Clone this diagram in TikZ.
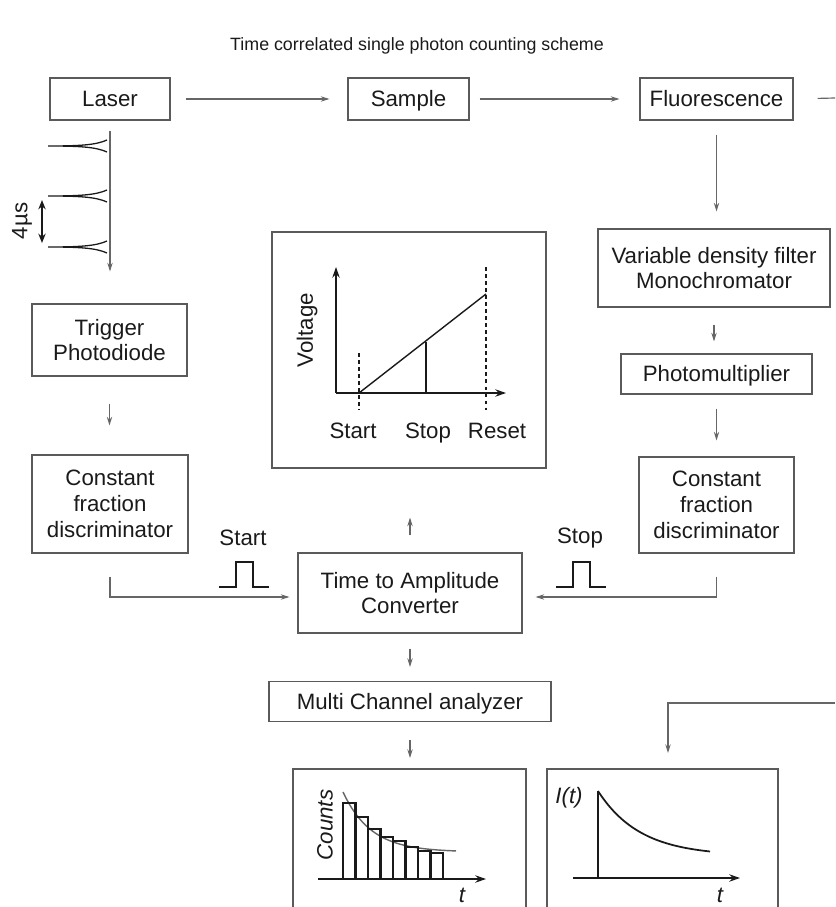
\documentclass[tikz,border=0pt]{standalone}
\usepackage{fontspec}
\setmainfont{Liberation Sans}
\usetikzlibrary{arrows.meta,positioning,calc}
\definecolor{schemeGray}{HTML}{666666}
\definecolor{schemeBox}{HTML}{5A5A5A}
\definecolor{schemeInk}{HTML}{1A1A1A}

\begin{document}
\begin{tikzpicture}[x=0.03cm,y=-0.03cm,>={Stealth[length=2.6mm,width=1.6mm]}]
\tikzstyle{unit}=[draw=schemeBox,line width=0.9pt,align=center,inner sep=0pt,font=\fontsize{19}{22}\selectfont,text=schemeInk]
\tikzstyle{oneline}=[text height=13.6pt,text depth=0pt]
\tikzstyle{conn}=[->,draw=schemeGray,line width=1pt]
\tikzstyle{trace}=[draw=schemeInk,line width=1.5pt]
\tikzstyle{lbl}=[font=\fontsize{19}{22}\selectfont,text=schemeInk,inner sep=0pt]
\useasboundingbox (0,0) rectangle (835,907);

\node[lbl,font=\fontsize{15.2}{18}\selectfont] (title) at (417,46) {Time correlated single photon counting scheme};

% top row
\node[unit,oneline,minimum width=3.6cm,minimum height=1.26cm] (laser) at (110,99) {Laser};
\node[unit,oneline,minimum width=3.63cm,minimum height=1.26cm] (sample) at (408.5,99) {Sample};
\node[unit,oneline,minimum width=4.59cm,minimum height=1.26cm] (fluor) at (716.5,99) {Fluorescence};

% emission side
\node[unit,minimum width=6.96cm,minimum height=2.34cm] (filter) at (714,268) {Variable density filter\\Monochromator};
\node[unit,oneline,minimum width=5.73cm,minimum height=1.2cm] (pmt) at (716.5,374) {Photomultiplier};
\node[unit,minimum width=4.65cm,minimum height=2.88cm] (cfdStop) at (716.5,505) {Constant\\fraction\\discriminator};

% trigger side
\node[unit,minimum width=4.65cm,minimum height=2.16cm] (trig) at (109.5,340) {Trigger\\Photodiode};
\node[unit,minimum width=4.68cm,minimum height=2.94cm] (cfdStart) at (110,504) {Constant\\fraction\\discriminator};

% electronics
\node[unit,minimum width=6.72cm,minimum height=2.4cm] (tac) at (410,593) {Time to Amplitude\\Converter};
\node[unit,oneline,minimum width=8.46cm,minimum height=1.2cm] (mca) at (410,701.5) {Multi Channel analyzer};
\node[draw=schemeBox,line width=0.9pt,minimum width=8.22cm,minimum height=7.08cm,inner sep=0pt] (ramp) at (409,350) {};

% open panels at the bottom
\draw[draw=schemeBox,line width=0.9pt] (293,907) -- (293,769) -- (526,769) -- (526,907);
\draw[draw=schemeBox,line width=0.9pt] (547,907) -- (547,769) -- (778,769) -- (778,907);
\coordinate (cntTop) at (410,769);
\coordinate (decTop) at (668,769);
\coordinate (outR) at (835,98);
\coordinate (inR) at (835,703);

% connectors
\foreach \a/\b/\s/\e in {laser/sample/.45cm/.54cm,sample/fluor/.3cm/.6cm}{\draw[conn,shorten <=\s,shorten >=\e] (\a) -- (\b);}
\foreach \a/\b/\s/\e in {laser/trig/.3cm/.96cm,trig/cfdStart/.81cm/.87cm,fluor/filter/.42cm/.51cm,filter/pmt/.51cm/.36cm,pmt/cfdStop/.42cm/.48cm,tac/mca/.45cm/.42cm}{\draw[conn,shorten <=\s,shorten >=\e] (\a.south) -- (\a.south |- \b.north);}
\draw[conn,shorten <=.54cm,shorten >=.33cm] (mca.south) -- (cntTop);
\draw[conn,shorten <=.51cm,shorten >=1.47cm] (tac.north) -- (tac.north |- ramp.south);
\draw[conn,shorten <=.69cm,shorten >=.24cm] (cfdStart.south) |- ([yshift=-0.12cm]tac.west);
\draw[conn,shorten <=.69cm,shorten >=.39cm] (cfdStop.south) |- ([yshift=-0.12cm]tac.east);
\draw[draw=schemeGray,line width=1pt,shorten <=.72cm] (fluor.east) -- (outR);
\draw[conn,shorten >=.48cm] (inR) -| (decTop);

% laser pulse train
\foreach \py in {146,196,247}{\draw[schemeInk,line width=1.1pt] (107,\py-6) .. controls (96,\py-1) and (80,\py) .. (48,\py) .. controls (80,\py) and (96,\py+1) .. (107,\py+6);}
\draw[{Stealth[length=2.8mm,width=2.2mm]}-{Stealth[length=2.8mm,width=2.2mm]},schemeInk,line width=1.4pt] (42,200) -- (42,243);
\node[lbl,rotate=90] (period) at (22,221) {4µs};

% start / stop pulses
\foreach \px in {219,556}{\draw[schemeInk,line width=1.1pt] (\px,587) -- ++(17,0) -- ++(0,-25) -- ++(17,0) -- ++(0,25) -- ++(16,0);}
\node[lbl] (startLbl) at (243,538) {Start};
\node[lbl] (stopLbl) at (580,538) {Stop};

% voltage ramp
\draw[trace,-{Stealth[length=3.2mm,width=2.2mm]}] (336,393) -- (336,267);
\draw[trace,-{Stealth[length=3.2mm,width=2.2mm]}] (336,393) -- (506,393);
\draw[schemeInk,line width=1pt,dashed] (359,353) -- (359,410);
\draw[schemeInk,line width=1pt,dashed] (486,267) -- (486,410);
\draw[schemeInk,line width=1.2pt] (359,393) -- (486,294);
\draw[schemeInk,line width=1.2pt] (426,393) -- (426,341.5);
\node[lbl,oneline] (rStart) at (353,431) {Start};
\node[lbl,oneline] (rStop) at (428,431) {Stop};
\node[lbl,oneline] (rReset) at (497,431) {Reset};
\node[lbl,rotate=90] (vAxis) at (307,330) {Voltage};

% histogram
\draw[schemeGray,line width=1.2pt,domain=343:456,samples=40] plot (\x,{852-60*exp(-(\x-343)/28)});
\foreach \i/\h in {0/802.7,1/816.7,2/829.3,3/836.7,4/840.7,5/846.7,6/850.7,7/852.7}{\draw[schemeInk,line width=1.9pt] ({343+12.5*\i},879) rectangle ({355.5+12.5*\i},\h);}
\draw[trace,-{Stealth[length=3.2mm,width=2.2mm]}] (318,879) -- (486,879);
\node[lbl,font=\fontsize{19}{22}\selectfont\itshape,rotate=90] (cAxis) at (325,825) {Counts};
\node[lbl,font=\fontsize{19}{22}\selectfont\itshape] (cT) at (462,895) {t};

% decay
\draw[trace,-{Stealth[length=3.2mm,width=2.2mm]}] (573,878) -- (740,878);
\draw[trace] (598,878) -- (598,791);
\draw[trace,domain=598:710,samples=40] plot (\x,{856-65*exp(-(\x-598)/42)});
\node[lbl,font=\fontsize{19}{22}\selectfont\itshape] (iAxis) at (569,798) {I(t)};
\node[lbl,font=\fontsize{19}{22}\selectfont\itshape] (dT) at (720,895) {t};
\end{tikzpicture}
\end{document}
